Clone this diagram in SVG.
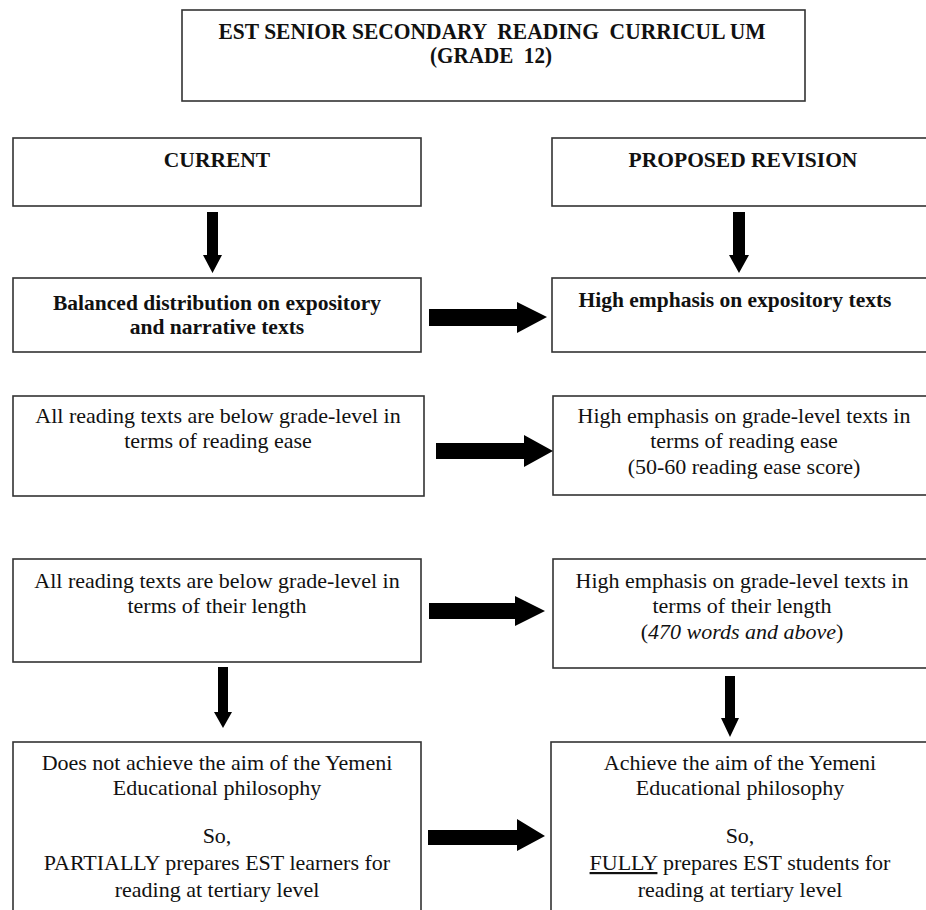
<svg xmlns="http://www.w3.org/2000/svg" width="926" height="910" viewBox="0 0 926 910">
<style>
.box{fill:#fff;stroke:#333;stroke-width:1.6}
.t{font-family:"Liberation Serif","Times New Roman",serif;font-size:22px;fill:#111;text-anchor:middle}
.b{font-weight:bold;font-size:21.5px}
.h{font-size:22.5px}
.i{font-style:italic}
.arr{fill:#000}
</style>
<rect width="926" height="910" fill="#fff"/>
<g id="title">
<rect class="box" x="182" y="10" width="623" height="91"/>
<text class="t b h" x="492" y="39" style="white-space:pre" textLength="547" lengthAdjust="spacingAndGlyphs">EST SENIOR SECONDARY  READING  CURRICUL UM</text>
<text class="t b h" x="491" y="63" style="white-space:pre" textLength="122" lengthAdjust="spacingAndGlyphs">(GRADE  12)</text>
</g>
<g id="current">
<rect class="box" x="13" y="138" width="408" height="68"/>
<text class="t b" x="217" y="167">CURRENT</text>
</g>
<g id="proposed">
<rect class="box" x="552" y="138" width="390" height="68"/>
<text class="t b" x="743" y="167">PROPOSED REVISION</text>
</g>
<g id="balanced">
<rect class="box" x="13" y="278" width="408" height="74"/>
<text class="t b" x="217" y="310">Balanced distribution on expository</text>
<text class="t b" x="217" y="334">and narrative texts</text>
</g>
<g id="expository">
<rect class="box" x="552" y="278" width="390" height="74"/>
<text class="t b" x="735" y="307">High emphasis on expository texts</text>
</g>
<g id="ease-current">
<rect class="box" x="13" y="396" width="411" height="100"/>
<text class="t" x="218" y="423">All reading texts are below grade-level in</text>
<text class="t" x="218" y="448">terms of reading ease</text>
</g>
<g id="ease-proposed">
<rect class="box" x="553" y="396" width="390" height="99"/>
<text class="t" x="744" y="423">High emphasis on grade-level texts in</text>
<text class="t" x="744" y="448">terms of reading ease</text>
<text class="t" x="744" y="474">(50-60 reading ease score)</text>
</g>
<g id="length-current">
<rect class="box" x="13" y="559" width="408" height="103"/>
<text class="t" x="217" y="588">All reading texts are below grade-level in</text>
<text class="t" x="217" y="613">terms of their length</text>
</g>
<g id="length-proposed">
<rect class="box" x="553" y="559" width="390" height="109"/>
<text class="t" x="742" y="588">High emphasis on grade-level texts in</text>
<text class="t" x="742" y="613">terms of their length</text>
<text class="t" x="742" y="639">(<tspan class="i">470 words and above</tspan>)</text>
</g>
<g id="aim-current">
<rect class="box" x="13" y="742" width="408" height="190"/>
<text class="t" x="217" y="770">Does not achieve the aim of the Yemeni</text>
<text class="t" x="217" y="795">Educational philosophy</text>
<text class="t" x="217" y="843">So,</text>
<text class="t" x="217" y="870">PARTIALLY prepares EST learners for</text>
<text class="t" x="217" y="897">reading at tertiary level</text>
</g>
<g id="aim-proposed">
<rect class="box" x="551" y="742" width="392" height="190"/>
<text class="t" x="740" y="770">Achieve the aim of the Yemeni</text>
<text class="t" x="740" y="795">Educational philosophy</text>
<text class="t" x="740" y="843">So,</text>
<text class="t" x="740" y="870"><tspan text-decoration="underline">FULLY</tspan> prepares EST students for</text>
<text class="t" x="740" y="897">reading at tertiary level</text>
</g>
<g id="connectors">
<polygon class="arr" points="207,212 218,212 218,255 222,255 212.5,273 203,255 207,255"/>
<polygon class="arr" points="733,212 745,212 745,255 749,255 739,273 729,255 733,255"/>
<polygon class="arr" points="218,667 228,667 228,712 232,712 223,728 214,712 218,712"/>
<polygon class="arr" points="725,676 735,676 735,718 739,718 730,737 721,718 725,718"/>
<polygon class="arr" points="429,309 517,309 517,302 547,317 517,333 517,326 429,326"/>
<polygon class="arr" points="436,443 524,443 524,435 553,451 524,467 524,459 436,459"/>
<polygon class="arr" points="429,603 515,603 515,596 545,611 515,626 515,619 429,619"/>
<polygon class="arr" points="428,830 517,830 517,819 545,836 517,851 517,845 428,845"/>
</g>
</svg>
